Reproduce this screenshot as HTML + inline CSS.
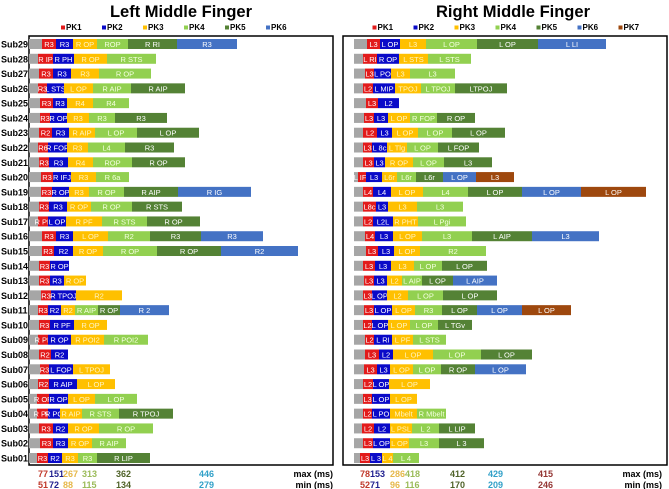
<!DOCTYPE html>
<html><head><meta charset="utf-8">
<style>
html,body{margin:0;padding:0;background:#fff;}
svg{display:block;font-family:"Liberation Sans",Arial,sans-serif;}
</style></head>
<body>
<svg id="chart" width="669" height="489" viewBox="0 0 669 489" xmlns="http://www.w3.org/2000/svg"></svg>
<script>
const subjects = ["Sub29","Sub28","Sub27","Sub26","Sub25","Sub24","Sub23","Sub22","Sub21","Sub20","Sub19","Sub18","Sub17","Sub16","Sub15","Sub14","Sub13","Sub12","Sub11","Sub10","Sub09","Sub08","Sub07","Sub06","Sub05","Sub04","Sub03","Sub02","Sub01"];
const leftBounds = [
[13,27,44,68,99,148,208],[9,24,45,78,127],[10,24,42,70,122],[9,18,35,64,102,156],[11,24,38,64,100],
[11,21,38,60,86,138],[10,23,40,66,108,170],[9,19,38,59,96,145],[10,20,39,64,103,156],[12,24,42,67,100],
[12,23,40,60,95,149,222],[10,20,38,62,103,153],[9,19,37,73,118,171],[13,27,44,79,121,172,234],[13,25,44,74,128,192,269],
[10,21,40],[10,21,35,57],[12,22,47,93],[9,19,32,46,69,91,140],[10,21,45,78],
[9,19,42,75,119],[10,22,39],[11,20,44,81],[9,20,48,86],[8,20,39,66,108],
[8,19,31,53,90,144],[10,24,39,70,124],[11,24,39,63,97],[8,19,33,49,68,121]];
const leftLabels = [
["R3","R3","R OP","ROP","R RI","R3"],["R IP","R PH","R OP","R STS"],["R3","R3","R3","R OP"],["R3","L STS","L OP","R AIP","R AIP"],["R3","R3","R4","R4"],
["R3","R OP","R3","R3","R3"],["R2","R3","R AIP","L OP","L OP"],["R6","R FOP","R3","L4","R3"],["R3","R3","R4","ROP","R OP"],["R3","R IFJ","R3","R 6a"],
["R3","R OP","R3","R OP","R AIP","R IG"],["R3","R3","R OP","R OP","R STS"],["R PF","L OP","R PF","R STS","R OP"],["R3","R3","L OP","R2","R3","R3"],["R3","R2","R OP","R OP","R OP","R2"],
["R3","R OP"],["R3","R3","R OP"],["R3","R TPOJ","R2"],["R3","R2","R2","R AIP","R OP","R 2"],["R3","R PF","R OP"],
["R PF","R OP","R POI2","R POI2"],["R2","R2"],["R3","L FOP","L TPOJ"],["R2","R AIP","L OP"],["R OP","R OP","L OP","L OP"],
["R PR","R PO","R AIP","R STS","R TPOJ"],["R3","R2","R OP","R OP"],["R3","R3","R OP","R AIP"],["R3","R2","R3","R3","R LIP"]];
const rightBounds = [
[13,26,46,72,123,184,252],[9,23,45,74,117],[11,20,37,56,101],[9,19,41,67,101,153],[12,24,45],
[10,20,34,56,83,121],[9,23,38,64,98,151],[9,18,33,53,84,125],[9,20,31,59,90,138],[4,12,28,43,62,89,122,160],
[9,19,37,69,114,168,227,292],[9,22,34,63,109],[9,19,39,64,112],[11,21,39,68,118,178,245],[12,24,40,66,132],
[9,21,37,60,88,133],[10,20,33,48,68,99,143],[9,18,33,54,89,143],[10,20,38,61,88,123,168,217],[9,18,34,56,84,118],
[11,20,38,59,92],[11,25,39,79,127,178],[10,23,36,59,87,121,172],[9,19,35,76],[9,18,36,63],
[9,18,36,63,92],[8,20,36,58,85,121],[9,19,36,55,85,130],[6,16,28,39,65]];
const rightLabels = [
["L3","L OP","L3","L OP","L OP","L LI"],["L RI","R OP","L STS","L STS"],["L3","L PO","L3","L3"],["L2","L MIP","TPOJ","L TPOJ","LTPOJ"],["L3","L2"],
["L3","L3","L OP","R FOP","R OP"],["L2","L3","L OP","L OP","L OP"],["L3","L 8c","L Tlg","L OP","L FOP"],["L3","L3","R OP","L OP","L3"],["L IFJ","L3","L6r","L6r","L6r","L OP","L3"],
["L4","L4","L OP","L4","L OP","L OP","L OP"],["L8c","L3","L3","L3"],["L2","L2L","R PHT","L Pgi"],["L4","L3","L OP","L3","L AIP","L3"],["L3","L3","L OP","R2"],
["L3","L3","L3","L OP","L OP"],["L3","L3","L2","L AIP","L OP","L AIP"],["L3","L OP","L2","L OP","L OP"],["L3","L OP","L OP","R3","L OP","L OP","L OP"],["L2","L OP","L OP","L OP","L TGv"],
["L2","L RI","L PF","L STS"],["L3","L2","L OP","L OP","L OP"],["L3","L3","L OP","L OP","R OP","L OP"],["L2","L OP","L OP"],["L3","L OP","L OP"],
["L2","L PO","Mbelt","R Mbelt"],["L2","L2","L PSL","L 2","L LIP"],["L3","L OP","L OP","L3","L 3"],["L3","L 3","L 4","L 4"]];
const leftMax = ["77","151","267","313","362","446"];
const leftMin = ["51","72","88","115","134","279"];
const rightMax = ["78","153","286","418","412","429","415"];
const rightMin = ["52","71","96","116","170","209","246"];
const peakNames = ["PK1","PK2","PK3","PK4","PK5","PK6","PK7"];

const segColors = ["#a6a6a6","#e21b1b","#0a0ac8","#ffc000","#92d050","#548235","#4472c4","#9e480e"];
const txtColors = ["#fff","#fff","#fff","#fff3c0","#f4ffe0","#fff","#fff","#fff"];
const footColors = ["#c0392b","#1f1f8f","#e6b84a","#9bbb59","#4f6228","#31a0c8","#943634"];
const NS = "http://www.w3.org/2000/svg";
const svg = document.getElementById("chart");
function mk(tag, attrs, parent){ const e=document.createElementNS(NS,tag); for(const k in attrs) e.setAttribute(k,attrs[k]); (parent||svg).appendChild(e); return e; }
const rowY = i => 44 + i*14.786;
const barH = 10;

function panel(p){
  const g = mk("g",{});
  
  
  const xs = v => p.x0 + v;
  const t = mk("text",{x:p.cx,y:17,"text-anchor":"middle","font-size":"16.5","font-weight":"bold",fill:"#000"},g);
  t.textContent = p.title;
  
  
  const n = p.nPk;
  let lx = p.cx - n*41/2 + 3;
  for(let k=0;k<n;k++){
    const le = mk("g",{},g);
    
    
    mk("rect",{x:lx,y:25.5,width:4,height:4,fill:segColors[k+1]},le);
    const lt = mk("text",{x:lx+5,y:30,"font-size":"8","font-weight":"bold",fill:"#000"},le);
    lt.textContent = peakNames[k];
    lx += 41;
  }
  const box = mk("rect",{x:p.bx,y:36,width:p.bw,height:429,fill:"none",stroke:"#000","stroke-width":"1.5"},g);
  
  
  p.bounds.forEach((row,i)=>{
    const yc = rowY(i);
    const rg = mk("g",{},g);
    
    
    let prev = 0;
    row.forEach((b,j)=>{
      const r = mk("rect",{x:xs(prev),y:yc-barH/2,width:xs(b)-xs(prev),height:barH,fill:segColors[j]},rg);
      
      
      if(j>0){
        const lab = p.labels[i][j-1];
        if(lab){
          const tt = mk("text",{x:(xs(prev)+xs(b))/2,y:yc+3,"text-anchor":"middle","font-size":"7.5",fill:txtColors[j]},rg);
          tt.textContent = lab;
          
          
        }
      }
      prev = b;
    });
  });
  p.maxV.forEach((v,k)=>{
    const a = mk("text",{x:p.footX[k],y:477,"font-size":"9","font-weight":"bold",fill:footColors[k]},g);
    a.textContent = v;
    
    
    const b = mk("text",{x:p.footX[k],y:488,"font-size":"9","font-weight":"bold",fill:footColors[k]},g);
    b.textContent = p.minV[k];
    
    
  });
  const mx = mk("text",{x:p.unitX,y:477,"text-anchor":"end","font-size":"9","font-weight":"bold",fill:"#000"},g);
  mx.textContent = "max (ms)";
  
  
  const mn = mk("text",{x:p.unitX,y:488,"text-anchor":"end","font-size":"9","font-weight":"bold",fill:"#000"},g);
  mn.textContent = "min (ms)";
  
  
}

subjects.forEach((s,i)=>{
  const t = mk("text",{x:1,y:rowY(i)+3.5,"font-size":"9","font-weight":"bold",fill:"#000"});
  t.textContent = s;
  
  
});

panel({name:"left-middle-finger-panel",title:"Left Middle Finger",cx:181,nPk:6,x0:29,bx:29,bw:304,
  bounds:leftBounds,labels:leftLabels,maxV:leftMax,minV:leftMin,
  footX:[38,49,63,82,116,199],unitX:333});
panel({name:"right-middle-finger-panel",title:"Right Middle Finger",cx:513,nPk:7,x0:354,bx:343,bw:324,
  bounds:rightBounds,labels:rightLabels,maxV:rightMax,minV:rightMin,
  footX:[360,370,390,405,450,488,538],unitX:662});
</script>
</body></html>
